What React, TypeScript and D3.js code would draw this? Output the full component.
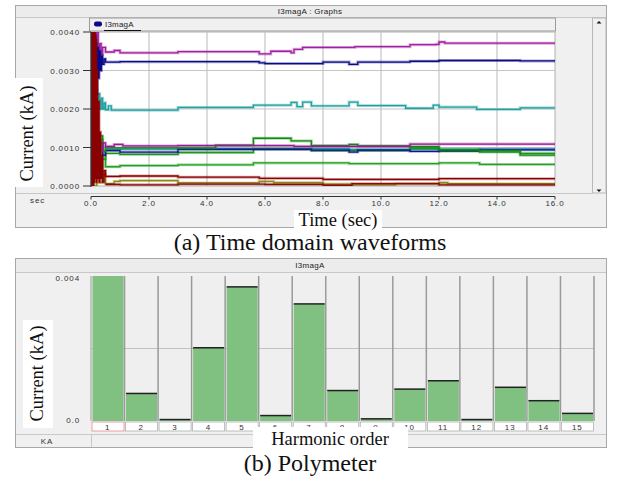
import React from "react";
import * as d3 from "d3";

// ---------- Data: time-domain waveforms (time in s, current in kA) ----------
type Pt = [number, number];
const timeTicks = [0, 2, 4, 6, 8, 10, 12, 14, 16];
const currentTicks = [0, 0.001, 0.002, 0.003, 0.004];

const magentaHigh: Pt[] = [[0,0.0045],[0.05,0.0040],[0.1,0.0043],[0.15,0.0037],[0.2,0.0040],[0.25,0.0035],[0.3,0.0037],[0.35,0.00342],[0.4,0.0036],[0.5,0.00348],[0.8,0.00352],[1.0,0.00346],[3.0,0.00349],[5.8,0.00343],[6.2,0.00350],[6.9,0.00346],[7.0,0.00355],[7.3,0.0036],[9.1,0.00362],[11.0,0.00367],[11.9,0.00368],[12.0,0.00374],[12.2,0.00371],[16,0.00371]];
const navyHigh: Pt[] = [[0,0.0040],[0.08,0.0012],[0.1,0.0040],[0.12,0.0016],[0.14,0.0039],[0.16,0.0020],[0.18,0.0037],[0.2,0.0024],[0.22,0.0036],[0.25,0.0028],[0.28,0.0035],[0.32,0.0030],[0.36,0.00338],[0.4,0.00316],[0.45,0.00330],[0.5,0.00322],[1.0,0.00323],[5.8,0.00320],[6.0,0.00318],[8.0,0.00322],[8.9,0.00316],[9.2,0.00322],[11.0,0.00324],[12.0,0.00326],[14.8,0.00325],[16,0.00325]];
const tealHigh: Pt[] = [[0,0.0026],[0.15,0.0025],[0.2,0.0019],[0.25,0.0024],[0.3,0.0020],[0.35,0.00228],[0.4,0.0020],[0.45,0.00216],[0.5,0.00198],[0.6,0.00208],[0.7,0.00197],[3.0,0.00204],[5.6,0.00210],[6.9,0.00217],[7.1,0.00206],[7.3,0.00218],[7.6,0.00208],[8.9,0.00218],[9.2,0.00209],[10.85,0.00202],[11.8,0.00210],[12.0,0.00205],[13.3,0.00199],[14.8,0.00203],[16,0.00203]];
const magentaLow: Pt[] = [[0,0.0011],[0.2,0.0013],[0.3,0.0009],[0.4,0.00112],[0.5,0.00103],[0.8,0.00108],[1.1,0.00104],[3.0,0.00105],[7.0,0.00103],[11.0,0.00109],[16,0.00109]];
const greenHigh: Pt[] = [[0,0.0004],[0.1,0.0025],[0.12,0.0008],[0.15,0.0018],[0.2,0.0009],[0.3,0.0013],[0.4,0.0009],[0.5,0.00099],[3.0,0.00099],[4.3,0.00106],[5.6,0.00124],[6.9,0.00117],[7.6,0.00105],[8.9,0.00108],[9.2,0.00104],[11.0,0.00102],[12.0,0.00094],[13.4,0.00091],[14.8,0.00080],[16,0.00080]];
const navyLow: Pt[] = [[0,0.0009],[0.3,0.0011],[0.4,0.0008],[0.5,0.00092],[1.0,0.00088],[3.0,0.00095],[7.6,0.00093],[8.9,0.00088],[9.2,0.00093],[11.0,0.00090],[12.0,0.00092],[13.4,0.00094],[16,0.00093]];
const tealLow: Pt[] = [[0.5,0.00096],[3.0,0.00097],[8.9,0.00095],[11.0,0.00096],[13.4,0.00096],[16,0.00096]];
const greenMid: Pt[] = [[0.3,0.0012],[0.4,0.0007],[0.5,0.00085],[1.0,0.00082],[3.0,0.00087],[5.6,0.00097],[7.6,0.00092],[11.0,0.00098],[12.0,0.00090],[13.4,0.00088],[14.8,0.00085],[16,0.00085]];
const greenLow: Pt[] = [[0,0.0],[0.1,0.0020],[0.15,0.0006],[0.2,0.0012],[0.3,0.0004],[0.4,0.0007],[0.5,0.00050],[1.0,0.00053],[3.0,0.00055],[5.6,0.00060],[8.9,0.00058],[12.0,0.00060],[13.4,0.00056],[16,0.00056]];
const redHigh: Pt[] = [[0,0.0045],[0.02,0],[0.04,0.0045],[0.06,0],[0.08,0.0045],[0.1,0.0001],[0.12,0.0042],[0.14,0.0002],[0.16,0.0038],[0.18,0.0001],[0.2,0.0030],[0.22,0.0002],[0.25,0.0022],[0.28,0.0001],[0.3,0.0014],[0.33,0.0002],[0.36,0.0008],[0.4,0.0001],[0.45,0.0004],[0.5,0.00025],[1.0,0.00026],[3.0,0.00023],[5.8,0.00020],[8.0,0.00017],[12.0,0.00019],[16,0.00018]];
const redLow: Pt[] = [[0.5,0.00004],[1.0,0.00003],[3.0,0.00005],[6.0,0.00004],[8.0,0.00002],[9.0,0.00006],[12.0,0.00003],[16,0.00004]];
const olive: Pt[] = [[0,0],[0.2,0.0004],[0.3,0.0001],[0.4,0.0003],[0.5,0.00006],[0.8,0.00012],[1.0,0.00014],[3.0,0.00008],[5.8,0.00012],[6.3,0.00009],[8.0,0.00005],[9.0,0.00003],[10.5,0.00006],[12.0,0.00009],[12.3,0.00006],[16,0.00007]];

const seriesList: { data: Pt[]; color: string }[] = [
  { data: tealLow, color: "#1f9f9f" },
  { data: greenMid, color: "#1e961e" },
  { data: navyLow, color: "#101890" },
  { data: greenHigh, color: "#108a10" },
  { data: magentaLow, color: "#9a169a" },
  { data: greenLow, color: "#22a022" },
  { data: olive, color: "#8a8a10" },
  { data: redLow, color: "#8a0a0a" },
  { data: tealHigh, color: "#20a0a0" },
  { data: magentaHigh, color: "#a020a0" },
  { data: navyHigh, color: "#0a0a88" },
  { data: redHigh, color: "#8b0000" },
];

// ---------- Data: harmonic spectrum ----------
const harmonics = ["1","2","3","4","5","6","7","8","9","10","11","12","13","14","15"];
const harmonicValues = [0.0043,0.00076,0.00004,0.00202,0.0037,0.00015,0.00323,0.00084,0.00006,0.00088,0.00111,0.00004,0.00093,0.00056,0.00021];

const sans = "'Liberation Sans', Arial, sans-serif";
const serif = "'Liberation Serif', 'Times New Roman', serif";

export default function App() {
  // top chart scales
  const x = d3.scaleLinear().domain([0, 16]).range([91, 555]);
  const y = d3.scaleLinear().domain([0, 0.004]).range([186, 32]);
  const line = d3.line<Pt>().x(d => x(d[0])).y(d => y(d[1])).curve(d3.curveStepAfter);

  // bottom chart scales
  const xb = d3.scaleBand().domain(harmonics).range([91, 594]).padding(0);
  const yb = d3.scaleLinear().domain([0, 0.004]).range([421, 276]).clamp(true);
  const bw = xb.bandwidth();

  const tickStyle: React.CSSProperties = { fontFamily: sans, fontSize: 8, letterSpacing: 0.9, fill: "#333" };

  return (
    <svg width={620} height={479} style={{ position: "absolute", left: 0, top: 0, background: "#fff" }}>
      <defs>
        <clipPath id="plotClip"><rect x={91} y={32} width={464} height={154} /></clipPath>
      </defs>

      {/* ================= TOP PANEL ================= */}
      <rect x={15.5} y={5.5} width={591} height={222} fill="#f0f0f0" stroke="#a8a8a8" />
      <rect x={16} y={6} width={590} height={11} fill="#ececec" />
      <line x1={16} x2={606} y1={17.5} y2={17.5} stroke="#c8c8c8" />
      <text x={310} y={14} textAnchor="middle" style={{ ...tickStyle, letterSpacing: 0.3, fill: "#222" }}>I3magA : Graphs</text>

      {/* legend strip */}
      <rect x={89.5} y={18} width={466} height={13} fill="#f0f0f0" stroke="#9a9a9a" />
      <rect x={94} y={21.5} width={8} height={5} rx={2.2} fill="#0a0a88" />
      <text x={105} y={27} style={{ ...tickStyle, letterSpacing: 0.2, fill: "#222" }}>I3magA</text>
      <line x1={104} x2={141} y1={30.5} y2={30.5} stroke="#111" />

      {/* plot area */}
      <rect x={91} y={32} width={464} height={154} fill="#fff" stroke="#b0b0b0" />
      {timeTicks.slice(1, -1).map(t => (
        <line key={"vg" + t} x1={x(t)} x2={x(t)} y1={32} y2={186} stroke="#c4c4c4" strokeWidth={1.2} />
      ))}
      {currentTicks.slice(1, -1).map(v => (
        <line key={"hg" + v} x1={91} x2={555} y1={y(v)} y2={y(v)} stroke="#c4c4c4" strokeWidth={1.2} />
      ))}
      <g clipPath="url(#plotClip)">
        {seriesList.map((s, i) => (
          <g key={i}>
            <path d={line(s.data) || ""} fill="none" stroke={s.color} strokeOpacity={0.35} strokeWidth={3} />
            <path d={line(s.data) || ""} fill="none" stroke={s.color} strokeWidth={1.3} />
          </g>
        ))}
      </g>

      {/* y axis */}
      <line x1={91} x2={91} y1={32} y2={187} stroke="#333" strokeWidth={1.2} />
      {currentTicks.map(v => (
        <g key={"yt" + v}>
          <line x1={83} x2={91} y1={y(v)} y2={y(v)} stroke="#333" />
          <text x={80} y={y(v) + 3} textAnchor="end" style={tickStyle}>{d3.format(".4f")(v)}</text>
        </g>
      ))}

      {/* x axis strip */}
      <line x1={16} x2={592} y1={193.5} y2={193.5} stroke="#c8c8c8" />
      <line x1={x(0)} x2={x(16)} y1={196.5} y2={196.5} stroke="#333" />
      {timeTicks.map(t => (
        <g key={"xt" + t}>
          <line x1={x(t)} x2={x(t)} y1={196.5} y2={199.5} stroke="#333" />
          <text x={x(t)} y={206} textAnchor="middle" style={tickStyle}>{d3.format(".1f")(t)}</text>
        </g>
      ))}
      <text x={30} y={203} style={tickStyle}>sec</text>

      {/* scrollbar */}
      <rect x={592.5} y={18} width={13.5} height={175} fill="#f0f0f0" stroke="#b8b8b8" />
      <path d="M596.5,23.5 L601.5,23.5 L599,21 Z" fill="#111" />
      <path d="M596.5,189.5 L601.5,189.5 L599,192 Z" fill="#111" />

      {/* axis titles */}
      <rect x={13} y={78} width={30} height={109} fill="#fff" />
      <text transform="translate(33,133.5) rotate(-90)" textAnchor="middle" style={{ fontFamily: serif, fontSize: 18.5, fill: "#111" }}>Current (kA)</text>
      <rect x={294} y={210} width={88} height={19} fill="#fff" />
      <text x={338} y={226} textAnchor="middle" style={{ fontFamily: serif, fontSize: 18.5, fill: "#111" }}>Time (sec)</text>

      <text x={310} y={250} textAnchor="middle" style={{ fontFamily: serif, fontSize: 24, fill: "#111" }}>(a) Time domain waveforms</text>

      {/* ================= BOTTOM PANEL ================= */}
      <rect x={15.5} y={258.5} width={591} height={189} fill="#f0f0f0" stroke="#a8a8a8" />
      <rect x={16} y={259} width={590} height={13} fill="#ececec" />
      <line x1={16} x2={606} y1={272.5} y2={272.5} stroke="#c8c8c8" />
      <text x={310} y={268} textAnchor="middle" style={{ ...tickStyle, letterSpacing: 0.3, fill: "#222" }}>I3magA</text>

      {harmonics.map(h => (
        <rect key={"bg" + h} x={xb(h)!} y={276} width={bw} height={145} fill="#efefef" />
      ))}
      <line x1={91} x2={594} y1={yb(0.002)} y2={yb(0.002)} stroke="#c2c2c2" strokeWidth={1.2} />
      {harmonics.map((h, i) => {
        const top = yb(harmonicValues[i]);
        return (
          <g key={"bar" + h}>
            <rect x={xb(h)! + 1.5} y={top} width={bw - 2.5} height={421 - top} fill="#80c080" />
            {harmonicValues[i] < 0.004 && (
              <line x1={xb(h)! + 1.5} x2={xb(h)! + bw - 1} y1={top} y2={top} stroke="#222" strokeWidth={1.5} />
            )}
          </g>
        );
      })}
      {harmonics.map(h => (
        <line key={"sep" + h} x1={xb(h)! + bw} x2={xb(h)! + bw} y1={276} y2={421} stroke="#9a9a9a" strokeWidth={1.5} />
      ))}
      <line x1={91} x2={91} y1={276} y2={421} stroke="#9a9a9a" strokeWidth={1} />

      {/* category label cells */}
      {harmonics.map((h, i) => (
        <g key={"lab" + h}>
          <rect x={xb(h)! + 1} y={422} width={bw - 1.5} height={9} fill="#fff" stroke={i === 0 ? "#e58a8a" : "#b0b0b0"} strokeWidth={0.8} />
          <text x={xb(h)! + bw / 2} y={429.5} textAnchor="middle" style={tickStyle}>{h}</text>
        </g>
      ))}

      <text x={80} y={281} textAnchor="end" style={tickStyle}>0.004</text>
      <text x={80} y={423} textAnchor="end" style={tickStyle}>0.0</text>

      {/* KA strip */}
      <line x1={16} x2={606} y1={434.5} y2={434.5} stroke="#c8c8c8" />
      <line x1={91.5} x2={91.5} y1={435} y2={447} stroke="#c8c8c8" />
      <text x={47} y={444} textAnchor="middle" style={tickStyle}>KA</text>

      {/* axis titles */}
      <rect x={23} y={320} width={30} height={108} fill="#fff" />
      <text transform="translate(43,373.5) rotate(-90)" textAnchor="middle" style={{ fontFamily: serif, fontSize: 18.5, fill: "#111" }}>Current (kA)</text>
      <rect x={253} y={427} width={155} height={25} fill="#fff" />
      <text x={330} y={445} textAnchor="middle" style={{ fontFamily: serif, fontSize: 18.5, fill: "#111" }}>Harmonic order</text>

      <text x={310} y={471} textAnchor="middle" style={{ fontFamily: serif, fontSize: 24, fill: "#111" }}>(b) Polymeter</text>
    </svg>
  );
}
